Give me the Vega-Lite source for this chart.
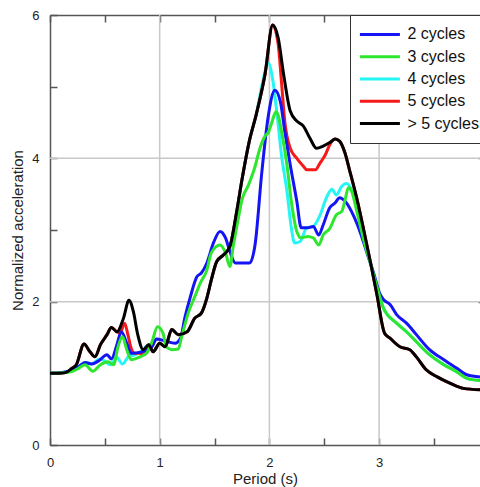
{
  "$schema": "https://vega.github.io/schema/vega-lite/v6.json",
  "width": 430,
  "height": 430,
  "autosize": {"type": "none"},
  "padding": {"left": 50, "top": 15, "right": 0, "bottom": 42},
  "background": "white",
  "config": {
    "view": {"stroke": null},
    "font": "Liberation Sans"
  },
  "datasets": {
    "curves": [
      {"s": "4 cycles", "x": 0, "y": 1.0}, {"s": "4 cycles", "x": 0.1, "y": 1.01}, {"s": "4 cycles", "x": 0.17, "y": 1.03}, {"s": "4 cycles", "x": 0.26, "y": 1.09}, {"s": "4 cycles", "x": 0.32, "y": 1.15}, {"s": "4 cycles", "x": 0.38, "y": 1.13}, {"s": "4 cycles", "x": 0.45, "y": 1.2}, {"s": "4 cycles", "x": 0.5, "y": 1.17}, {"s": "4 cycles", "x": 0.55, "y": 1.12}, {"s": "4 cycles", "x": 0.61, "y": 1.22}, {"s": "4 cycles", "x": 0.66, "y": 1.13}, {"s": "4 cycles", "x": 0.72, "y": 1.24}, {"s": "4 cycles", "x": 0.78, "y": 1.26}, {"s": "4 cycles", "x": 0.85, "y": 1.33}, {"s": "4 cycles", "x": 0.9, "y": 1.4}, {"s": "4 cycles", "x": 0.94, "y": 1.3}, {"s": "4 cycles", "x": 1.0, "y": 1.42}, {"s": "4 cycles", "x": 1.05, "y": 1.37}, {"s": "4 cycles", "x": 1.11, "y": 1.61}, {"s": "4 cycles", "x": 1.17, "y": 1.54}, {"s": "4 cycles", "x": 1.25, "y": 1.58}, {"s": "4 cycles", "x": 1.32, "y": 1.77}, {"s": "4 cycles", "x": 1.38, "y": 1.84}, {"s": "4 cycles", "x": 1.43, "y": 2.05}, {"s": "4 cycles", "x": 1.47, "y": 2.3}, {"s": "4 cycles", "x": 1.52, "y": 2.56}, {"s": "4 cycles", "x": 1.58, "y": 2.65}, {"s": "4 cycles", "x": 1.64, "y": 2.77}, {"s": "4 cycles", "x": 1.7, "y": 3.24}, {"s": "4 cycles", "x": 1.75, "y": 3.7}, {"s": "4 cycles", "x": 1.82, "y": 4.26}, {"s": "4 cycles", "x": 1.88, "y": 4.61}, {"s": "4 cycles", "x": 1.93, "y": 5.0}, {"s": "4 cycles", "x": 1.99, "y": 5.33}, {"s": "4 cycles", "x": 2.03, "y": 5.1}, {"s": "4 cycles", "x": 2.07, "y": 4.61}, {"s": "4 cycles", "x": 2.11, "y": 4.05}, {"s": "4 cycles", "x": 2.16, "y": 3.54}, {"s": "4 cycles", "x": 2.2, "y": 3.03}, {"s": "4 cycles", "x": 2.23, "y": 2.82}, {"s": "4 cycles", "x": 2.28, "y": 2.84}, {"s": "4 cycles", "x": 2.34, "y": 3.03}, {"s": "4 cycles", "x": 2.4, "y": 3.05}, {"s": "4 cycles", "x": 2.46, "y": 3.2}, {"s": "4 cycles", "x": 2.52, "y": 3.45}, {"s": "4 cycles", "x": 2.57, "y": 3.57}, {"s": "4 cycles", "x": 2.61, "y": 3.49}, {"s": "4 cycles", "x": 2.66, "y": 3.61}, {"s": "4 cycles", "x": 2.7, "y": 3.65}, {"s": "4 cycles", "x": 2.75, "y": 3.56}, {"s": "4 cycles", "x": 2.8, "y": 3.28}, {"s": "4 cycles", "x": 2.86, "y": 2.86}, {"s": "4 cycles", "x": 2.92, "y": 2.54}, {"s": "4 cycles", "x": 2.98, "y": 2.21}, {"s": "4 cycles", "x": 3.04, "y": 1.91}, {"s": "4 cycles", "x": 3.16, "y": 1.7}, {"s": "4 cycles", "x": 3.25, "y": 1.58}, {"s": "4 cycles", "x": 3.34, "y": 1.44}, {"s": "4 cycles", "x": 3.46, "y": 1.26}, {"s": "4 cycles", "x": 3.59, "y": 1.12}, {"s": "4 cycles", "x": 3.71, "y": 1.02}, {"s": "4 cycles", "x": 3.8, "y": 0.93}, {"s": "4 cycles", "x": 3.92, "y": 0.9},

      {"s": "5 cycles", "x": 0, "y": 1.0}, {"s": "5 cycles", "x": 0.08, "y": 1.0}, {"s": "5 cycles", "x": 0.14, "y": 1.01}, {"s": "5 cycles", "x": 0.2, "y": 1.07}, {"s": "5 cycles", "x": 0.24, "y": 1.12}, {"s": "5 cycles", "x": 0.31, "y": 1.41}, {"s": "5 cycles", "x": 0.365, "y": 1.3}, {"s": "5 cycles", "x": 0.41, "y": 1.23}, {"s": "5 cycles", "x": 0.46, "y": 1.4}, {"s": "5 cycles", "x": 0.52, "y": 1.54}, {"s": "5 cycles", "x": 0.56, "y": 1.64}, {"s": "5 cycles", "x": 0.61, "y": 1.58}, {"s": "5 cycles", "x": 0.64, "y": 1.56}, {"s": "5 cycles", "x": 0.68, "y": 1.7}, {"s": "5 cycles", "x": 0.71, "y": 1.54}, {"s": "5 cycles", "x": 0.74, "y": 1.35}, {"s": "5 cycles", "x": 0.77, "y": 1.28}, {"s": "5 cycles", "x": 0.82, "y": 1.28}, {"s": "5 cycles", "x": 0.85, "y": 1.26}, {"s": "5 cycles", "x": 0.88, "y": 1.3}, {"s": "5 cycles", "x": 0.9, "y": 1.4}, {"s": "5 cycles", "x": 0.94, "y": 1.3}, {"s": "5 cycles", "x": 1.0, "y": 1.42}, {"s": "5 cycles", "x": 1.05, "y": 1.37}, {"s": "5 cycles", "x": 1.11, "y": 1.61}, {"s": "5 cycles", "x": 1.17, "y": 1.54}, {"s": "5 cycles", "x": 1.25, "y": 1.58}, {"s": "5 cycles", "x": 1.32, "y": 1.77}, {"s": "5 cycles", "x": 1.38, "y": 1.84}, {"s": "5 cycles", "x": 1.43, "y": 2.05}, {"s": "5 cycles", "x": 1.47, "y": 2.3}, {"s": "5 cycles", "x": 1.52, "y": 2.56}, {"s": "5 cycles", "x": 1.58, "y": 2.65}, {"s": "5 cycles", "x": 1.64, "y": 2.77}, {"s": "5 cycles", "x": 1.7, "y": 3.24}, {"s": "5 cycles", "x": 1.75, "y": 3.7}, {"s": "5 cycles", "x": 1.82, "y": 4.26}, {"s": "5 cycles", "x": 1.88, "y": 4.61}, {"s": "5 cycles", "x": 1.96, "y": 5.17}, {"s": "5 cycles", "x": 2.03, "y": 5.86}, {"s": "5 cycles", "x": 2.08, "y": 5.59}, {"s": "5 cycles", "x": 2.11, "y": 5.07}, {"s": "5 cycles", "x": 2.14, "y": 4.52}, {"s": "5 cycles", "x": 2.19, "y": 4.14}, {"s": "5 cycles", "x": 2.25, "y": 4.0}, {"s": "5 cycles", "x": 2.31, "y": 3.89}, {"s": "5 cycles", "x": 2.34, "y": 3.84}, {"s": "5 cycles", "x": 2.42, "y": 3.84}, {"s": "5 cycles", "x": 2.46, "y": 3.93}, {"s": "5 cycles", "x": 2.51, "y": 4.05}, {"s": "5 cycles", "x": 2.55, "y": 4.19}, {"s": "5 cycles", "x": 2.6, "y": 4.27}, {"s": "5 cycles", "x": 2.64, "y": 4.24}, {"s": "5 cycles", "x": 2.69, "y": 4.07}, {"s": "5 cycles", "x": 2.73, "y": 3.84}, {"s": "5 cycles", "x": 2.8, "y": 3.42}, {"s": "5 cycles", "x": 2.86, "y": 3.0}, {"s": "5 cycles", "x": 2.92, "y": 2.56}, {"s": "5 cycles", "x": 2.98, "y": 2.1}, {"s": "5 cycles", "x": 3.05, "y": 1.56}, {"s": "5 cycles", "x": 3.1, "y": 1.49}, {"s": "5 cycles", "x": 3.19, "y": 1.37}, {"s": "5 cycles", "x": 3.28, "y": 1.33}, {"s": "5 cycles", "x": 3.34, "y": 1.23}, {"s": "5 cycles", "x": 3.43, "y": 1.05}, {"s": "5 cycles", "x": 3.53, "y": 0.95}, {"s": "5 cycles", "x": 3.65, "y": 0.86}, {"s": "5 cycles", "x": 3.77, "y": 0.79}, {"s": "5 cycles", "x": 3.92, "y": 0.77},

      {"s": "2 cycles", "x": 0, "y": 1.0}, {"s": "2 cycles", "x": 0.1, "y": 1.01}, {"s": "2 cycles", "x": 0.17, "y": 1.03}, {"s": "2 cycles", "x": 0.26, "y": 1.09}, {"s": "2 cycles", "x": 0.32, "y": 1.15}, {"s": "2 cycles", "x": 0.38, "y": 1.13}, {"s": "2 cycles", "x": 0.44, "y": 1.17}, {"s": "2 cycles", "x": 0.52, "y": 1.26}, {"s": "2 cycles", "x": 0.56, "y": 1.2}, {"s": "2 cycles", "x": 0.61, "y": 1.4}, {"s": "2 cycles", "x": 0.65, "y": 1.58}, {"s": "2 cycles", "x": 0.7, "y": 1.42}, {"s": "2 cycles", "x": 0.74, "y": 1.28}, {"s": "2 cycles", "x": 0.84, "y": 1.3}, {"s": "2 cycles", "x": 0.93, "y": 1.37}, {"s": "2 cycles", "x": 0.97, "y": 1.48}, {"s": "2 cycles", "x": 1.05, "y": 1.45}, {"s": "2 cycles", "x": 1.14, "y": 1.42}, {"s": "2 cycles", "x": 1.19, "y": 1.49}, {"s": "2 cycles", "x": 1.23, "y": 1.78}, {"s": "2 cycles", "x": 1.28, "y": 2.07}, {"s": "2 cycles", "x": 1.34, "y": 2.35}, {"s": "2 cycles", "x": 1.38, "y": 2.4}, {"s": "2 cycles", "x": 1.43, "y": 2.54}, {"s": "2 cycles", "x": 1.49, "y": 2.82}, {"s": "2 cycles", "x": 1.55, "y": 2.98}, {"s": "2 cycles", "x": 1.6, "y": 2.89}, {"s": "2 cycles", "x": 1.64, "y": 2.7}, {"s": "2 cycles", "x": 1.69, "y": 2.54}, {"s": "2 cycles", "x": 1.75, "y": 2.54}, {"s": "2 cycles", "x": 1.82, "y": 2.54}, {"s": "2 cycles", "x": 1.87, "y": 2.8}, {"s": "2 cycles", "x": 1.93, "y": 3.79}, {"s": "2 cycles", "x": 1.99, "y": 4.59}, {"s": "2 cycles", "x": 2.05, "y": 4.95}, {"s": "2 cycles", "x": 2.1, "y": 4.79}, {"s": "2 cycles", "x": 2.14, "y": 4.38}, {"s": "2 cycles", "x": 2.19, "y": 3.91}, {"s": "2 cycles", "x": 2.25, "y": 3.4}, {"s": "2 cycles", "x": 2.29, "y": 3.03}, {"s": "2 cycles", "x": 2.35, "y": 3.03}, {"s": "2 cycles", "x": 2.4, "y": 3.05}, {"s": "2 cycles", "x": 2.45, "y": 2.93}, {"s": "2 cycles", "x": 2.49, "y": 3.07}, {"s": "2 cycles", "x": 2.55, "y": 3.31}, {"s": "2 cycles", "x": 2.6, "y": 3.38}, {"s": "2 cycles", "x": 2.64, "y": 3.45}, {"s": "2 cycles", "x": 2.69, "y": 3.4}, {"s": "2 cycles", "x": 2.77, "y": 3.19}, {"s": "2 cycles", "x": 2.83, "y": 2.96}, {"s": "2 cycles", "x": 2.89, "y": 2.68}, {"s": "2 cycles", "x": 2.95, "y": 2.4}, {"s": "2 cycles", "x": 3.01, "y": 2.1}, {"s": "2 cycles", "x": 3.04, "y": 2.03}, {"s": "2 cycles", "x": 3.1, "y": 1.96}, {"s": "2 cycles", "x": 3.16, "y": 1.82}, {"s": "2 cycles", "x": 3.25, "y": 1.7}, {"s": "2 cycles", "x": 3.34, "y": 1.54}, {"s": "2 cycles", "x": 3.46, "y": 1.33}, {"s": "2 cycles", "x": 3.59, "y": 1.19}, {"s": "2 cycles", "x": 3.71, "y": 1.07}, {"s": "2 cycles", "x": 3.8, "y": 0.98}, {"s": "2 cycles", "x": 3.92, "y": 0.95},

      {"s": "3 cycles", "x": 0, "y": 1.0}, {"s": "3 cycles", "x": 0.14, "y": 1.01}, {"s": "3 cycles", "x": 0.21, "y": 1.03}, {"s": "3 cycles", "x": 0.26, "y": 1.07}, {"s": "3 cycles", "x": 0.32, "y": 1.12}, {"s": "3 cycles", "x": 0.39, "y": 1.03}, {"s": "3 cycles", "x": 0.46, "y": 1.12}, {"s": "3 cycles", "x": 0.53, "y": 1.16}, {"s": "3 cycles", "x": 0.58, "y": 1.12}, {"s": "3 cycles", "x": 0.62, "y": 1.37}, {"s": "3 cycles", "x": 0.66, "y": 1.51}, {"s": "3 cycles", "x": 0.7, "y": 1.33}, {"s": "3 cycles", "x": 0.74, "y": 1.19}, {"s": "3 cycles", "x": 0.82, "y": 1.23}, {"s": "3 cycles", "x": 0.88, "y": 1.28}, {"s": "3 cycles", "x": 0.93, "y": 1.44}, {"s": "3 cycles", "x": 0.98, "y": 1.65}, {"s": "3 cycles", "x": 1.03, "y": 1.56}, {"s": "3 cycles", "x": 1.06, "y": 1.37}, {"s": "3 cycles", "x": 1.11, "y": 1.33}, {"s": "3 cycles", "x": 1.17, "y": 1.34}, {"s": "3 cycles", "x": 1.2, "y": 1.51}, {"s": "3 cycles", "x": 1.26, "y": 1.84}, {"s": "3 cycles", "x": 1.32, "y": 2.07}, {"s": "3 cycles", "x": 1.37, "y": 2.26}, {"s": "3 cycles", "x": 1.43, "y": 2.44}, {"s": "3 cycles", "x": 1.47, "y": 2.68}, {"s": "3 cycles", "x": 1.55, "y": 2.79}, {"s": "3 cycles", "x": 1.6, "y": 2.68}, {"s": "3 cycles", "x": 1.64, "y": 2.49}, {"s": "3 cycles", "x": 1.67, "y": 2.77}, {"s": "3 cycles", "x": 1.72, "y": 3.19}, {"s": "3 cycles", "x": 1.75, "y": 3.42}, {"s": "3 cycles", "x": 1.81, "y": 3.63}, {"s": "3 cycles", "x": 1.87, "y": 3.89}, {"s": "3 cycles", "x": 1.91, "y": 4.12}, {"s": "3 cycles", "x": 1.96, "y": 4.31}, {"s": "3 cycles", "x": 1.99, "y": 4.36}, {"s": "3 cycles", "x": 2.02, "y": 4.49}, {"s": "3 cycles", "x": 2.06, "y": 4.65}, {"s": "3 cycles", "x": 2.08, "y": 4.6}, {"s": "3 cycles", "x": 2.11, "y": 4.38}, {"s": "3 cycles", "x": 2.16, "y": 3.91}, {"s": "3 cycles", "x": 2.2, "y": 3.4}, {"s": "3 cycles", "x": 2.25, "y": 2.98}, {"s": "3 cycles", "x": 2.29, "y": 2.89}, {"s": "3 cycles", "x": 2.35, "y": 2.91}, {"s": "3 cycles", "x": 2.4, "y": 2.89}, {"s": "3 cycles", "x": 2.45, "y": 2.79}, {"s": "3 cycles", "x": 2.49, "y": 2.93}, {"s": "3 cycles", "x": 2.55, "y": 3.02}, {"s": "3 cycles", "x": 2.61, "y": 3.21}, {"s": "3 cycles", "x": 2.66, "y": 3.26}, {"s": "3 cycles", "x": 2.69, "y": 3.42}, {"s": "3 cycles", "x": 2.72, "y": 3.59}, {"s": "3 cycles", "x": 2.75, "y": 3.54}, {"s": "3 cycles", "x": 2.8, "y": 3.24}, {"s": "3 cycles", "x": 2.86, "y": 2.86}, {"s": "3 cycles", "x": 2.92, "y": 2.54}, {"s": "3 cycles", "x": 2.98, "y": 2.21}, {"s": "3 cycles", "x": 3.04, "y": 1.91}, {"s": "3 cycles", "x": 3.16, "y": 1.7}, {"s": "3 cycles", "x": 3.25, "y": 1.58}, {"s": "3 cycles", "x": 3.34, "y": 1.44}, {"s": "3 cycles", "x": 3.46, "y": 1.26}, {"s": "3 cycles", "x": 3.59, "y": 1.12}, {"s": "3 cycles", "x": 3.71, "y": 1.02}, {"s": "3 cycles", "x": 3.8, "y": 0.93}, {"s": "3 cycles", "x": 3.92, "y": 0.9},

      {"s": "> 5 cycles", "x": 0, "y": 1.0}, {"s": "> 5 cycles", "x": 0.08, "y": 1.0}, {"s": "> 5 cycles", "x": 0.14, "y": 1.01}, {"s": "> 5 cycles", "x": 0.2, "y": 1.07}, {"s": "> 5 cycles", "x": 0.24, "y": 1.12}, {"s": "> 5 cycles", "x": 0.31, "y": 1.41}, {"s": "> 5 cycles", "x": 0.365, "y": 1.3}, {"s": "> 5 cycles", "x": 0.41, "y": 1.23}, {"s": "> 5 cycles", "x": 0.46, "y": 1.4}, {"s": "> 5 cycles", "x": 0.52, "y": 1.54}, {"s": "> 5 cycles", "x": 0.56, "y": 1.64}, {"s": "> 5 cycles", "x": 0.61, "y": 1.58}, {"s": "> 5 cycles", "x": 0.67, "y": 1.77}, {"s": "> 5 cycles", "x": 0.72, "y": 2.02}, {"s": "> 5 cycles", "x": 0.76, "y": 1.86}, {"s": "> 5 cycles", "x": 0.8, "y": 1.54}, {"s": "> 5 cycles", "x": 0.85, "y": 1.33}, {"s": "> 5 cycles", "x": 0.9, "y": 1.4}, {"s": "> 5 cycles", "x": 0.94, "y": 1.3}, {"s": "> 5 cycles", "x": 1.0, "y": 1.42}, {"s": "> 5 cycles", "x": 1.05, "y": 1.37}, {"s": "> 5 cycles", "x": 1.11, "y": 1.61}, {"s": "> 5 cycles", "x": 1.17, "y": 1.54}, {"s": "> 5 cycles", "x": 1.25, "y": 1.58}, {"s": "> 5 cycles", "x": 1.32, "y": 1.77}, {"s": "> 5 cycles", "x": 1.38, "y": 1.84}, {"s": "> 5 cycles", "x": 1.43, "y": 2.05}, {"s": "> 5 cycles", "x": 1.47, "y": 2.3}, {"s": "> 5 cycles", "x": 1.52, "y": 2.56}, {"s": "> 5 cycles", "x": 1.58, "y": 2.65}, {"s": "> 5 cycles", "x": 1.64, "y": 2.77}, {"s": "> 5 cycles", "x": 1.7, "y": 3.24}, {"s": "> 5 cycles", "x": 1.75, "y": 3.7}, {"s": "> 5 cycles", "x": 1.82, "y": 4.26}, {"s": "> 5 cycles", "x": 1.88, "y": 4.61}, {"s": "> 5 cycles", "x": 1.96, "y": 5.17}, {"s": "> 5 cycles", "x": 2.03, "y": 5.86}, {"s": "> 5 cycles", "x": 2.08, "y": 5.68}, {"s": "> 5 cycles", "x": 2.13, "y": 5.17}, {"s": "> 5 cycles", "x": 2.19, "y": 4.66}, {"s": "> 5 cycles", "x": 2.25, "y": 4.52}, {"s": "> 5 cycles", "x": 2.31, "y": 4.45}, {"s": "> 5 cycles", "x": 2.37, "y": 4.28}, {"s": "> 5 cycles", "x": 2.43, "y": 4.14}, {"s": "> 5 cycles", "x": 2.49, "y": 4.17}, {"s": "> 5 cycles", "x": 2.55, "y": 4.22}, {"s": "> 5 cycles", "x": 2.6, "y": 4.27}, {"s": "> 5 cycles", "x": 2.64, "y": 4.24}, {"s": "> 5 cycles", "x": 2.69, "y": 4.07}, {"s": "> 5 cycles", "x": 2.73, "y": 3.84}, {"s": "> 5 cycles", "x": 2.8, "y": 3.42}, {"s": "> 5 cycles", "x": 2.86, "y": 3.0}, {"s": "> 5 cycles", "x": 2.92, "y": 2.56}, {"s": "> 5 cycles", "x": 2.98, "y": 2.1}, {"s": "> 5 cycles", "x": 3.05, "y": 1.56}, {"s": "> 5 cycles", "x": 3.1, "y": 1.49}, {"s": "> 5 cycles", "x": 3.19, "y": 1.37}, {"s": "> 5 cycles", "x": 3.28, "y": 1.33}, {"s": "> 5 cycles", "x": 3.34, "y": 1.23}, {"s": "> 5 cycles", "x": 3.43, "y": 1.05}, {"s": "> 5 cycles", "x": 3.53, "y": 0.95}, {"s": "> 5 cycles", "x": 3.65, "y": 0.86}, {"s": "> 5 cycles", "x": 3.77, "y": 0.79}, {"s": "> 5 cycles", "x": 3.92, "y": 0.77}
    ],
    "gridx": [{"g": 1}, {"g": 2}, {"g": 3}],
    "gridy": [{"g": 2}, {"g": 4}]
  },
  "resolve": {"axis": {"x": "independent", "y": "independent"}},
  "layer": [
    {
      "data": {"name": "gridx"},
      "mark": {"type": "rule", "color": "#c8c8c8", "strokeWidth": 1.5},
      "encoding": {
        "x": {"field": "g", "type": "quantitative", "scale": {"domain": [0, 3.92], "nice": false, "zero": false}, "axis": null}
      }
    },
    {
      "data": {"name": "gridy"},
      "mark": {"type": "rule", "color": "#c8c8c8", "strokeWidth": 1.5},
      "encoding": {
        "y": {"field": "g", "type": "quantitative", "scale": {"domain": [0, 6], "nice": false}, "axis": null}
      }
    },
    {
      "data": {"name": "curves"},
      "transform": [{"filter": "datum.s === '4 cycles'"}],
      "mark": {"type": "line", "interpolate": "monotone", "strokeWidth": 3},
      "encoding": {
        "x": {"field": "x", "type": "quantitative", "scale": {"domain": [0, 3.92], "nice": false, "zero": false}, "axis": {
          "orient": "bottom", "title": "Period (s)", "titleFont": "Liberation Sans", "titleFontSize": 15, "titleFontWeight": "normal", "titleColor": "#222222", "titlePadding": 2,
          "values": [0, 0.5, 1, 1.5, 2, 2.5, 3, 3.5], "format": "~g", "labelExpr": "datum.value % 1 === 0 ? datum.label : ''",
          "labelFont": "Liberation Sans", "labelFontSize": 13, "labelColor": "#222222", "labelPadding": 18, "labelFlush": false,
          "domainColor": "#555555", "domainWidth": 1.5, "tickColor": "#555555", "tickWidth": 1.5, "tickSize": -7, "grid": false
        }},
        "y": {"field": "y", "type": "quantitative", "scale": {"domain": [0, 6], "nice": false}, "axis": {
          "orient": "left", "title": "Normalized acceleration", "titleFont": "Liberation Sans", "titleFontSize": 15, "titleFontWeight": "normal", "titleColor": "#222222", "titlePadding": 6,
          "values": [0, 1, 2, 3, 4, 5, 6], "format": "~g", "labelExpr": "datum.value % 2 === 0 ? datum.label : ''",
          "labelFont": "Liberation Sans", "labelFontSize": 13, "labelColor": "#222222", "labelPadding": 18, "labelFlush": false,
          "domainColor": "#555555", "domainWidth": 1.5, "tickColor": "#555555", "tickWidth": 1.5, "tickSize": -7, "grid": false
        }},
        "color": {
          "field": "s", "type": "nominal",
          "scale": {"domain": ["2 cycles", "3 cycles", "4 cycles", "5 cycles", "> 5 cycles"], "range": ["#1414f5", "#2de62d", "#25f5f5", "#f51a1a", "#000000"]},
          "legend": {
            "title": null, "orient": "none", "legendX": 300, "legendY": 0,
            "fillColor": "white", "strokeColor": "#333333",
            "padding": 8.4, "symbolType": "stroke", "symbolSize": 1600, "symbolStrokeWidth": 3,
            "labelFontSize": 16, "labelFont": "Liberation Sans", "labelColor": "#111111", "labelOffset": 6,
            "clipHeight": 22, "rowPadding": 0.3
          }
        }
      }
    },
    {
      "data": {"name": "curves"},
      "transform": [{"filter": "datum.s === '5 cycles'"}],
      "mark": {"type": "line", "interpolate": "monotone", "strokeWidth": 3},
      "encoding": {
        "x": {"field": "x", "type": "quantitative", "axis": null},
        "y": {"field": "y", "type": "quantitative", "axis": null},
        "color": {"field": "s", "type": "nominal"}
      }
    },
    {
      "data": {"name": "curves"},
      "transform": [{"filter": "datum.s === '2 cycles'"}],
      "mark": {"type": "line", "interpolate": "monotone", "strokeWidth": 3},
      "encoding": {
        "x": {"field": "x", "type": "quantitative", "axis": null},
        "y": {"field": "y", "type": "quantitative", "axis": null},
        "color": {"field": "s", "type": "nominal"}
      }
    },
    {
      "data": {"name": "curves"},
      "transform": [{"filter": "datum.s === '3 cycles'"}],
      "mark": {"type": "line", "interpolate": "monotone", "strokeWidth": 3},
      "encoding": {
        "x": {"field": "x", "type": "quantitative", "axis": null},
        "y": {"field": "y", "type": "quantitative", "axis": null},
        "color": {"field": "s", "type": "nominal"}
      }
    },
    {
      "data": {"name": "curves"},
      "transform": [{"filter": "datum.s === '> 5 cycles'"}],
      "mark": {"type": "line", "interpolate": "monotone", "strokeWidth": 3},
      "encoding": {
        "x": {"field": "x", "type": "quantitative", "axis": {
          "orient": "top", "title": null, "labels": false, "grid": false,
          "values": [0, 0.5, 1, 1.5, 2, 2.5, 3, 3.5],
          "domainColor": "#555555", "domainWidth": 1.5, "tickColor": "#555555", "tickWidth": 1.5, "tickSize": -7
        }},
        "y": {"field": "y", "type": "quantitative", "axis": {
          "orient": "right", "title": null, "labels": false, "grid": false, "domain": false,
          "values": [2, 4], "tickColor": "#555555", "tickWidth": 1.5, "tickSize": -2
        }},
        "color": {"field": "s", "type": "nominal"}
      }
    }
  ]
}
